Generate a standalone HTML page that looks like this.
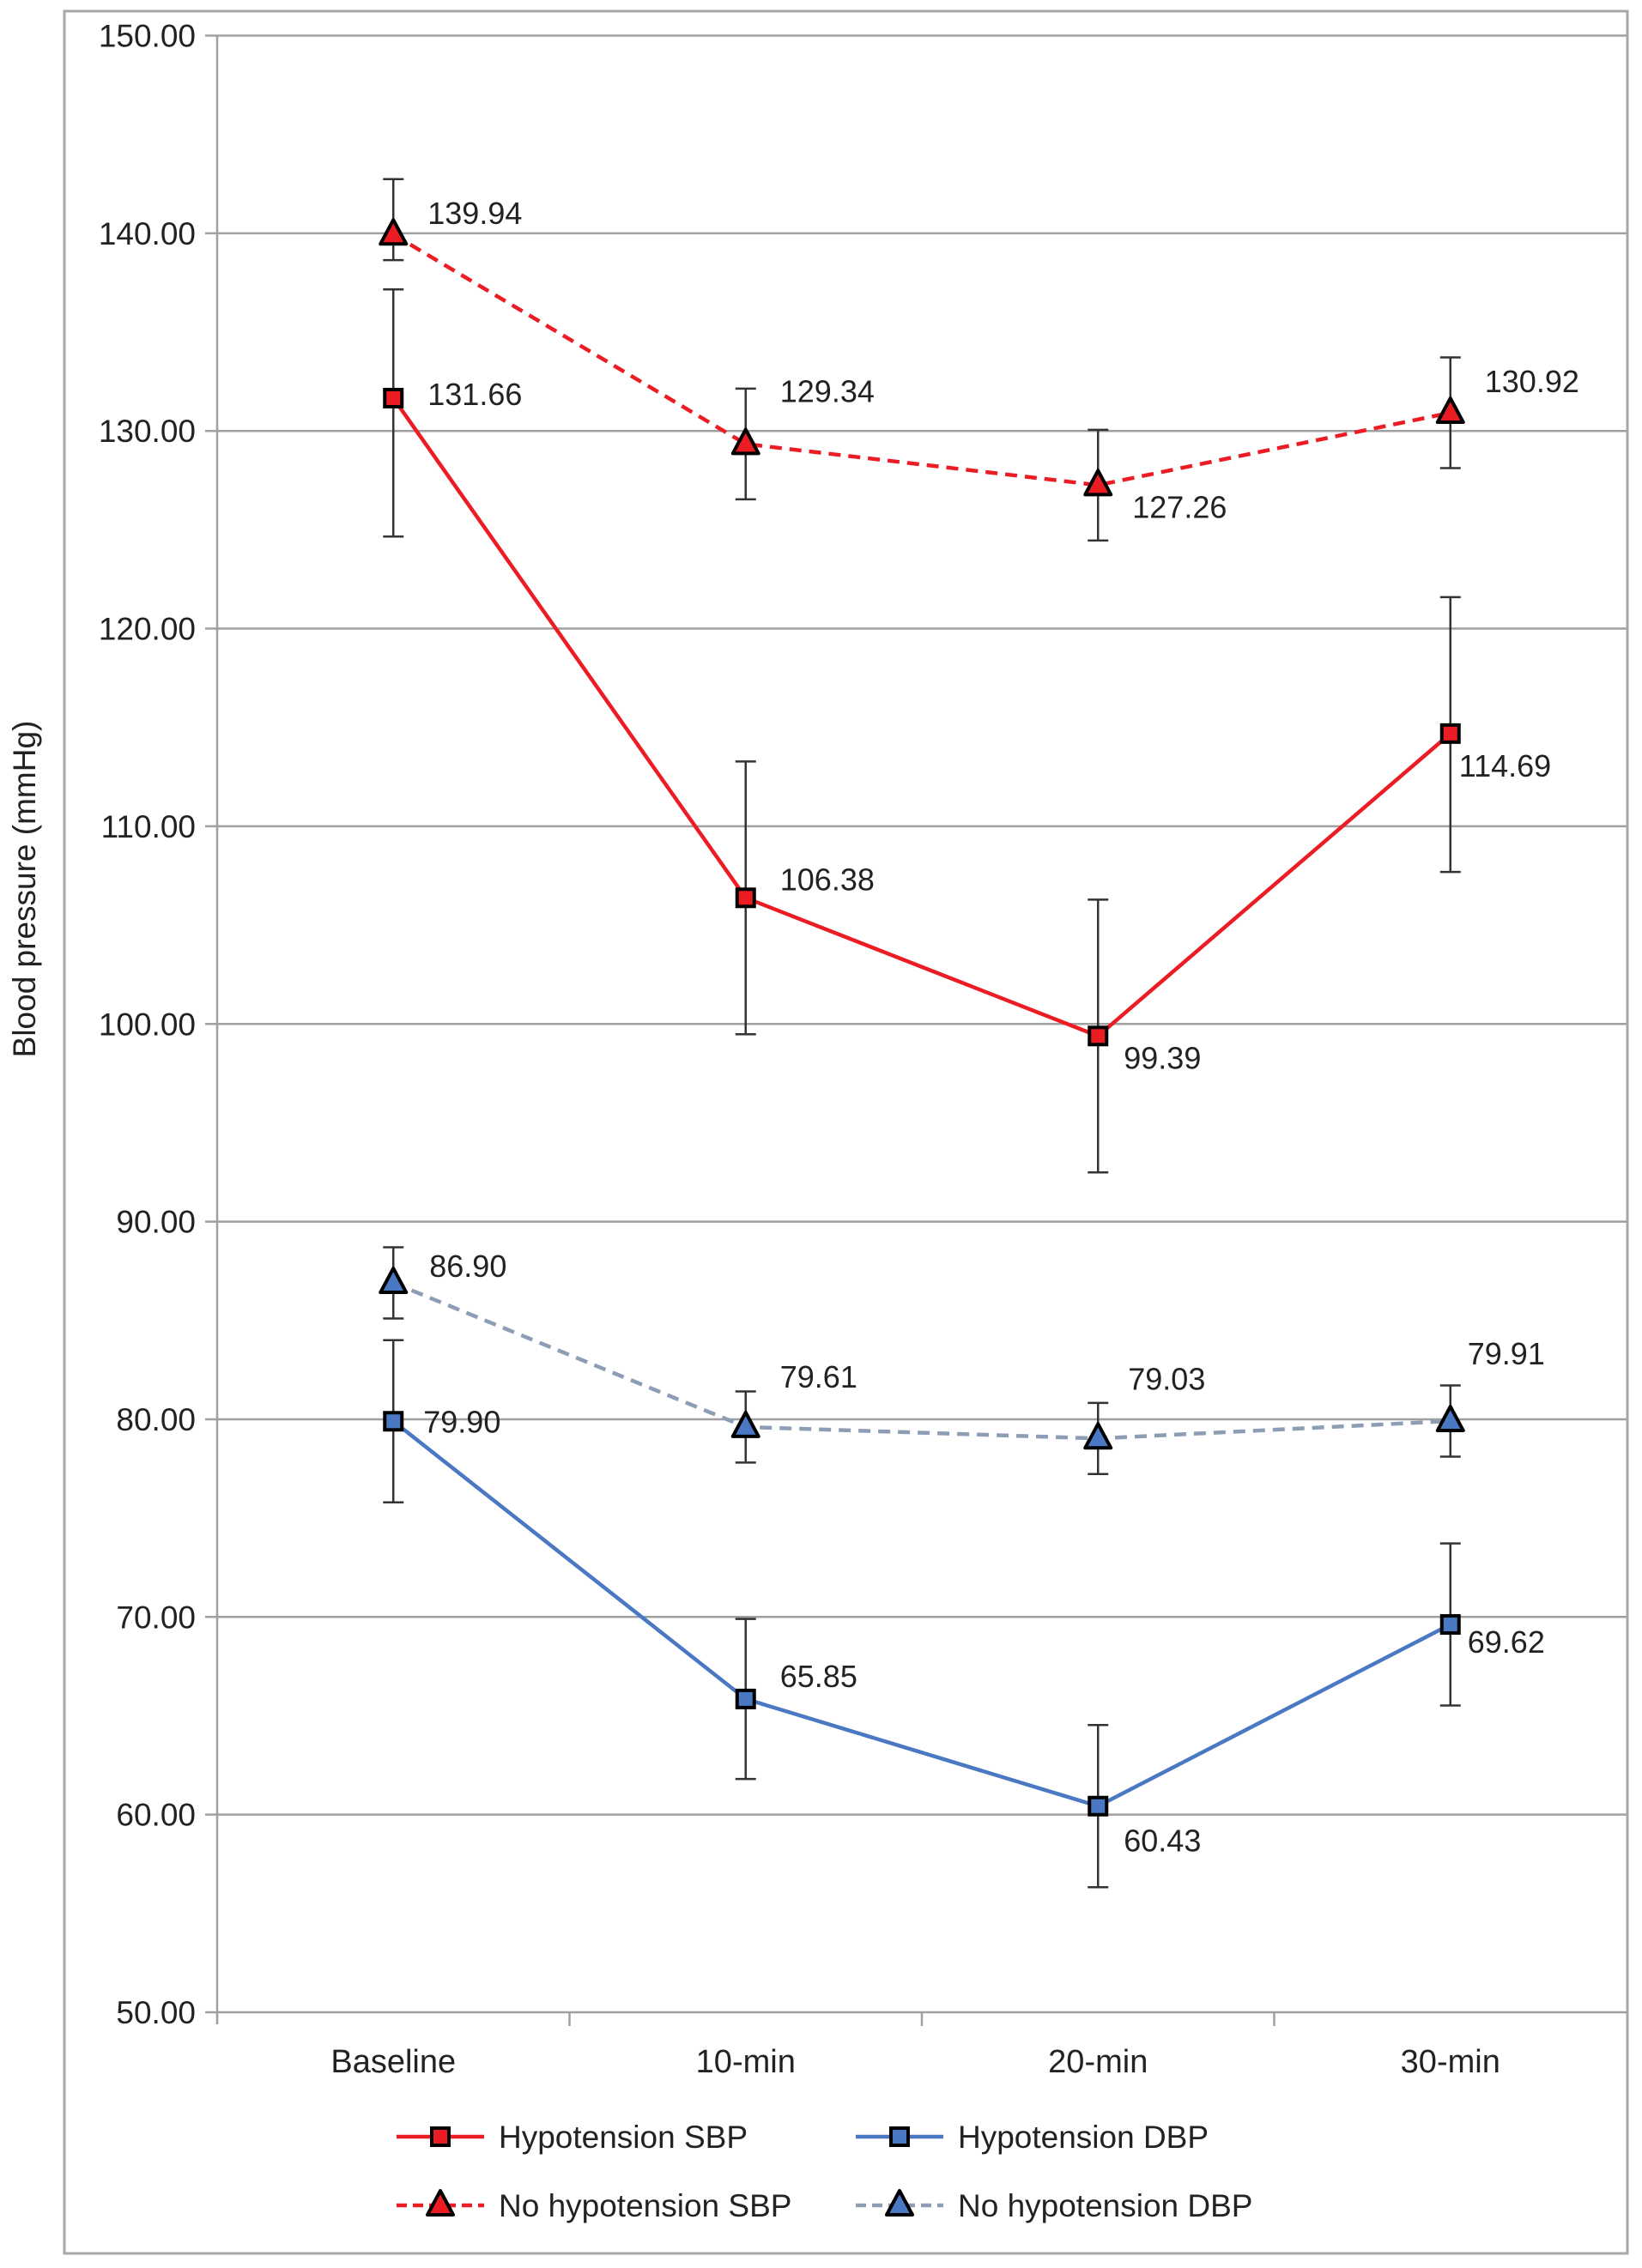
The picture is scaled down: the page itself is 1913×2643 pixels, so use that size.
<!DOCTYPE html>
<html><head><meta charset="utf-8"><style>
html,body{margin:0;padding:0;background:#fff;}
svg{display:block;font-family:"Liberation Sans",Arial,sans-serif;}
</style></head><body>
<svg id="chart" width="1913" height="2643" viewBox="0 0 1913 2643">
<rect x="75" y="13" width="1821" height="2613" fill="#fff" stroke="#a8a8a8" stroke-width="3"/>
<g id="grid"></g>
<g id="series"></g>
<g id="legend"></g>
</svg>
<script>
const categories = ["Baseline","10-min","20-min","30-min"];
const yTicks = [50,60,70,80,90,100,110,120,130,140,150];
const hypoSBP = [131.66,106.38,99.39,114.69];
const hypoSBPUp = [5.5,6.9,6.9,6.9];
const hypoSBPDown = [7.0,6.9,6.9,7.0];
const noHypoSBP = [139.94,129.34,127.26,130.92];
const noHypoSBPUp = [2.8,2.8,2.8,2.8];
const noHypoSBPDown = [1.3,2.8,2.8,2.8];
const hypoDBP = [79.90,65.85,60.43,69.62];
const hypoDBPErr = [4.1,4.05,4.1,4.1];
const noHypoDBP = [86.90,79.61,79.03,79.91];
const noHypoDBPErr = [1.8,1.8,1.8,1.8];

const NS="http://www.w3.org/2000/svg";
const L=253,R=1895,T=41.5,B=2345,yMin=50,yMax=150;
const bw=(R-L)/categories.length;
const xS=i=>L+bw*(i+0.5);
const yS=v=>B-(v-yMin)/(yMax-yMin)*(B-T);
function mk(tag,attrs,parent,text){const e=document.createElementNS(NS,tag);for(const k in attrs)e.setAttribute(k,attrs[k]);if(text!==undefined)e.textContent=text;parent.appendChild(e);return e;}
const grid=document.getElementById('grid'),ser=document.getElementById('series'),leg=document.getElementById('legend');

yTicks.forEach(v=>{
  const ln=mk('line',{x1:L-14,x2:R,y1:yS(v),y2:yS(v),stroke:'#a0a0a0','stroke-width':2.5},grid);
  
  
  const t=mk('text',{x:L-25,y:yS(v)+13,'text-anchor':'end','font-size':37,fill:'#222'},grid,v.toFixed(2));
  
  
});
const ax=mk('line',{x1:L,x2:L,y1:T,y2:B+14,stroke:'#a0a0a0','stroke-width':2.5},grid);


for(let i=1;i<categories.length;i++){
  const tk=mk('line',{x1:L+bw*i,x2:L+bw*i,y1:B,y2:B+16,stroke:'#a0a0a0','stroke-width':2.5},grid);
  
  
}
categories.forEach((c,i)=>{
  const t=mk('text',{x:xS(i),y:2415,'text-anchor':'middle','font-size':38,fill:'#222'},grid,c);
  
  
});
const yt=mk('text',{x:0,y:0,transform:'translate(41,1036) rotate(-90)','text-anchor':'middle','font-size':37,fill:'#222'},grid,'Blood pressure (mmHg)');



const RED='#ec1c24',BLUE='#4a78c2',GREY='#8c9db4';
const seriesDefs=[
 {name:'no-hypotension-sbp',vals:noHypoSBP,up:noHypoSBPUp,dn:noHypoSBPDown,color:RED,dash:'14 9',marker:'tri',fill:RED,lab:[[40,-25],[40,-62],[40,25],[40,-37]]},
 {name:'hypotension-sbp',vals:hypoSBP,up:hypoSBPUp,dn:hypoSBPDown,color:RED,dash:null,marker:'sq',fill:RED,lab:[[40,-5],[40,-22],[30,25],[10,37]]},
 {name:'no-hypotension-dbp',vals:noHypoDBP,up:noHypoDBPErr,dn:noHypoDBPErr,color:GREY,dash:'14 9',marker:'tri',fill:BLUE,lab:[[42,-20],[40,-59],[35,-70],[20,-79]]},
 {name:'hypotension-dbp',vals:hypoDBP,up:hypoDBPErr,dn:hypoDBPErr,color:BLUE,dash:null,marker:'sq',fill:BLUE,lab:[[35,0],[40,-27],[30,40],[20,20]]}
];
function marker(type,x,y,fill,parent){
  if(type==='sq') return mk('rect',{x:x-10,y:y-10,width:20,height:20,fill:fill,stroke:'#000','stroke-width':4},parent);
  return mk('polygon',{points:`${x},${y-17} ${x+15},${y+11} ${x-15},${y+11}`,fill:fill,stroke:'#000','stroke-width':4,'stroke-linejoin':'round'},parent);
}
seriesDefs.forEach(s=>{
  const g=mk('g',{},ser);
  
  
  s.vals.forEach((v,i)=>{
    const x=xS(i),y1=yS(v+s.up[i]),y2=yS(v-s.dn[i]);
    const e=mk('path',{d:`M${x},${y1}V${y2}M${x-12},${y1}H${x+12}M${x-12},${y2}H${x+12}`,stroke:'#333','stroke-width':2.5,fill:'none'},g);
    
    
  });
  const ln=mk('polyline',{points:s.vals.map((v,i)=>xS(i)+','+yS(v)).join(' '),fill:'none',stroke:s.color,'stroke-width':4.5},g);
  if(s.dash) ln.setAttribute('stroke-dasharray',s.dash);
  
  
  s.vals.forEach((v,i)=>{
    const m=marker(s.marker,xS(i),yS(v),s.fill,g);
    
    
    const t=mk('text',{x:xS(i)+s.lab[i][0],y:yS(v)+s.lab[i][1]+13,'font-size':36,fill:'#222'},g,v.toFixed(2));
    
    
  });
});
const legendItems=[
 {label:'Hypotension SBP',color:RED,dash:null,marker:'sq',fill:RED,x:462,y:2490},
 {label:'Hypotension DBP',color:BLUE,dash:null,marker:'sq',fill:BLUE,x:997,y:2490},
 {label:'No hypotension SBP',color:RED,dash:'12 7',marker:'tri',fill:RED,x:462,y:2570},
 {label:'No hypotension DBP',color:GREY,dash:'12 7',marker:'tri',fill:BLUE,x:997,y:2570}
];
legendItems.forEach(it=>{
  const g=mk('g',{},leg);
  
  
  const l=mk('line',{x1:it.x,x2:it.x+102,y1:it.y,y2:it.y,stroke:it.color,'stroke-width':4.5},g);
  if(it.dash) l.setAttribute('stroke-dasharray',it.dash);
  marker(it.marker,it.x+51,it.y,it.fill,g);
  mk('text',{x:it.x+119,y:it.y+13,'font-size':37,fill:'#222'},g,it.label);
});
</script>
</body></html>
